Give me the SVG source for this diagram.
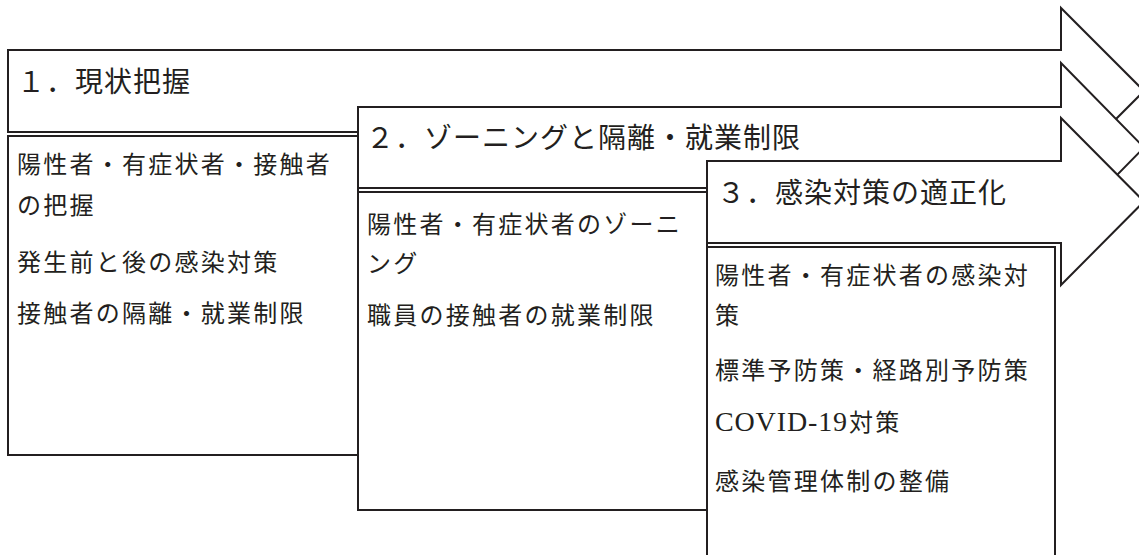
<svg xmlns="http://www.w3.org/2000/svg" width="1139" height="555" viewBox="0 0 1139 555">
<style>
.shape{fill:#fff;stroke:#231f20;stroke-width:2;stroke-linejoin:miter}
.hd{font-family:"Noto Sans CJK JP",sans-serif;font-size:28px;letter-spacing:1px;fill:#231f20}
.bd{font-family:"Noto Sans CJK JP",sans-serif;font-size:24px;letter-spacing:2.25px;fill:#231f20}
.lat{font-family:"Liberation Serif",serif;font-size:28px;fill:#231f20}
</style>
<rect width="1139" height="555" fill="#fff"/>
<g id="step1">
<polygon class="shape" points="8,50 1061,50 1061,8 1144,91 1061,174 1061,132 8,132"/>
<text class="hd" x="17" y="92">１．現状把握</text>
</g>
<g id="body1">
<rect class="shape" x="8" y="136" width="350" height="319"/>
<text class="bd" x="17" y="173">陽性者・有症状者・接触者</text>
<text class="bd" x="17" y="214">の把握</text>
<text class="bd" x="17" y="271">発生前と後の感染対策</text>
<text class="bd" x="17" y="322">接触者の隔離・就業制限</text>
</g>
<g id="step2">
<polygon class="shape" points="358,107 1061,107 1061,63 1144,147.5 1061,232 1061,188 358,188"/>
<text class="hd" x="366" y="148">２．ゾーニングと隔離・就業制限</text>
</g>
<g id="body2">
<rect class="shape" x="358" y="192" width="349" height="318"/>
<text class="bd" x="367" y="233">陽性者・有症状者のゾーニ</text>
<text class="bd" x="367" y="272">ング</text>
<text class="bd" x="367" y="324">職員の接触者の就業制限</text>
</g>
<g id="step3">
<polygon class="shape" points="707,161 1061,161 1061,118 1144,201.5 1061,285 1061,243 707,243"/>
<text class="hd" x="717" y="203">３．感染対策の適正化</text>
</g>
<g id="body3">
<rect class="shape" x="707" y="247" width="348" height="330"/>
<text class="bd" x="715" y="284">陽性者・有症状者の感染対</text>
<text class="bd" x="715" y="324">策</text>
<text class="bd" x="715" y="379">標準予防策・経路別予防策</text>
<text class="lat" x="715" y="431" textLength="132" lengthAdjust="spacing">COVID-19</text>
<text class="bd" x="849" y="431">対策</text>
<text class="bd" x="715" y="490">感染管理体制の整備</text>
</g>
<g id="connectors"></g>
</svg>
